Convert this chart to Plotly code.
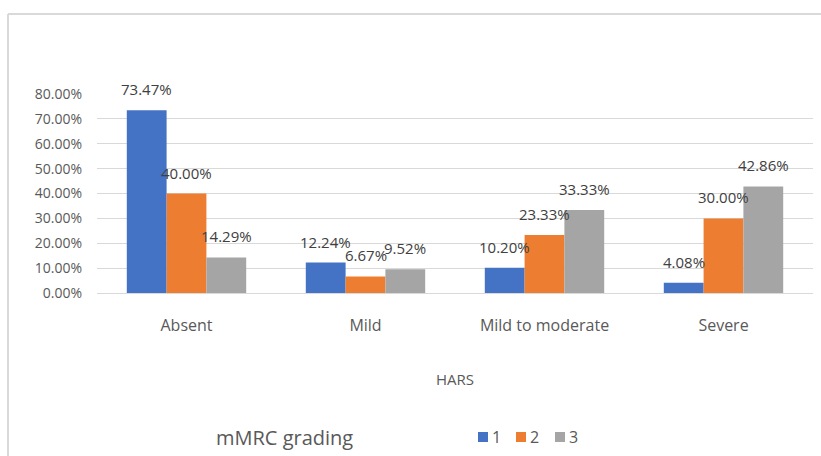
import plotly.graph_objects as go

categories = ["Absent", "Mild", "Mild to moderate", "Severe"]
series_names = ["1", "2", "3"]
s1 = [0.7347, 0.1224, 0.1020, 0.0408]
s2 = [0.4000, 0.0667, 0.2333, 0.3000]
s3 = [0.1429, 0.0952, 0.3333, 0.4286]
colors = ["#4472C4", "#ED7D31", "#A5A5A5"]
y_ticks = [0, 0.1, 0.2, 0.3, 0.4, 0.5, 0.6, 0.7, 0.8]
legend_title = "mMRC grading"
x_title = "HARS"

FONT = "Open Sans"
TXT = "#595959"

L, R, T, B = 97, 8, 94, 163
W, H = 821, 456
pw, ph = W - L - R, H - T - B


def px_x(x):
    return (x - L) / pw


def px_y(y):
    return (H - B - y) / ph


fig = go.Figure()
all_series = [s1, s2, s3]
for name, vals, col in zip(series_names, all_series, colors):
    fig.add_trace(go.Bar(x=categories, y=vals, name=name,
                         marker=dict(color=col, line=dict(width=0))))

annotations = []
shapes = []
bar_px = pw / len(categories) * (1 - 0.333) / 3
for i, vals in enumerate(all_series):
    for c, v in zip(categories, vals):
        annotations.append(dict(
            x=c, y=v, xref="x", yref="y", text=f"{v*100:.2f}%", showarrow=False,
            xshift=(i - 1) * bar_px, yshift=9, yanchor="bottom",
            font=dict(family=FONT, size=15, color="#404040")))

# legend title
annotations.append(dict(x=px_x(214), y=px_y(437), xref="paper", yref="paper", text=legend_title,
                        showarrow=False, xanchor="left", yanchor="middle",
                        font=dict(family=FONT, size=20, color=TXT)))
# custom legend entries
leg_x = [478, 516, 555]
for i, (name, col) in enumerate(zip(series_names, colors)):
    x0 = leg_x[i]
    shapes.append(dict(type="rect", xref="paper", yref="paper",
                       x0=px_x(x0), x1=px_x(x0 + 10), y0=px_y(442), y1=px_y(432),
                       fillcolor=col, line=dict(width=0)))
    annotations.append(dict(x=px_x(x0 + 12), y=px_y(437), xref="paper", yref="paper", text=name,
                            showarrow=False, xanchor="left", yanchor="middle",
                            font=dict(family=FONT, size=16, color=TXT)))

# chart border (top and left edges visible)
shapes.append(dict(type="line", xref="paper", yref="paper", x0=px_x(8), x1=px_x(821),
                   y0=px_y(14), y1=px_y(14), line=dict(color="#d9d9d9", width=2)))
shapes.append(dict(type="line", xref="paper", yref="paper", x0=px_x(8), x1=px_x(8),
                   y0=px_y(14), y1=px_y(456), line=dict(color="#d9d9d9", width=2)))

fig.update_layout(
    width=W, height=H,
    margin=dict(l=L, r=R, t=T, b=B, autoexpand=False),
    paper_bgcolor="white", plot_bgcolor="white",
    barmode="group", bargap=0.333, bargroupgap=0,
    font=dict(family=FONT, size=14, color=TXT),
    showlegend=False,
    xaxis=dict(showgrid=False, showline=False, ticks="", ticklabelstandoff=21, automargin=False,
               title=dict(text=x_title, font=dict(family=FONT, size=15, color=TXT), standoff=39),
               tickfont=dict(family=FONT, size=16, color=TXT)),
    yaxis=dict(range=[0, 0.8], tickvals=y_ticks, tickformat=".2%", showgrid=True, automargin=False,
               gridcolor="#d9d9d9", gridwidth=1, zeroline=True, zerolinecolor="#d9d9d9",
               zerolinewidth=1, showline=False, ticks="", ticklabelstandoff=14,
               tickfont=dict(family=FONT, size=14, color=TXT)),
    annotations=annotations,
    shapes=shapes,
)

fig.write_html("out.html", config={"displayModeBar": False},
               post_script="document.body.style.margin='0px';")
